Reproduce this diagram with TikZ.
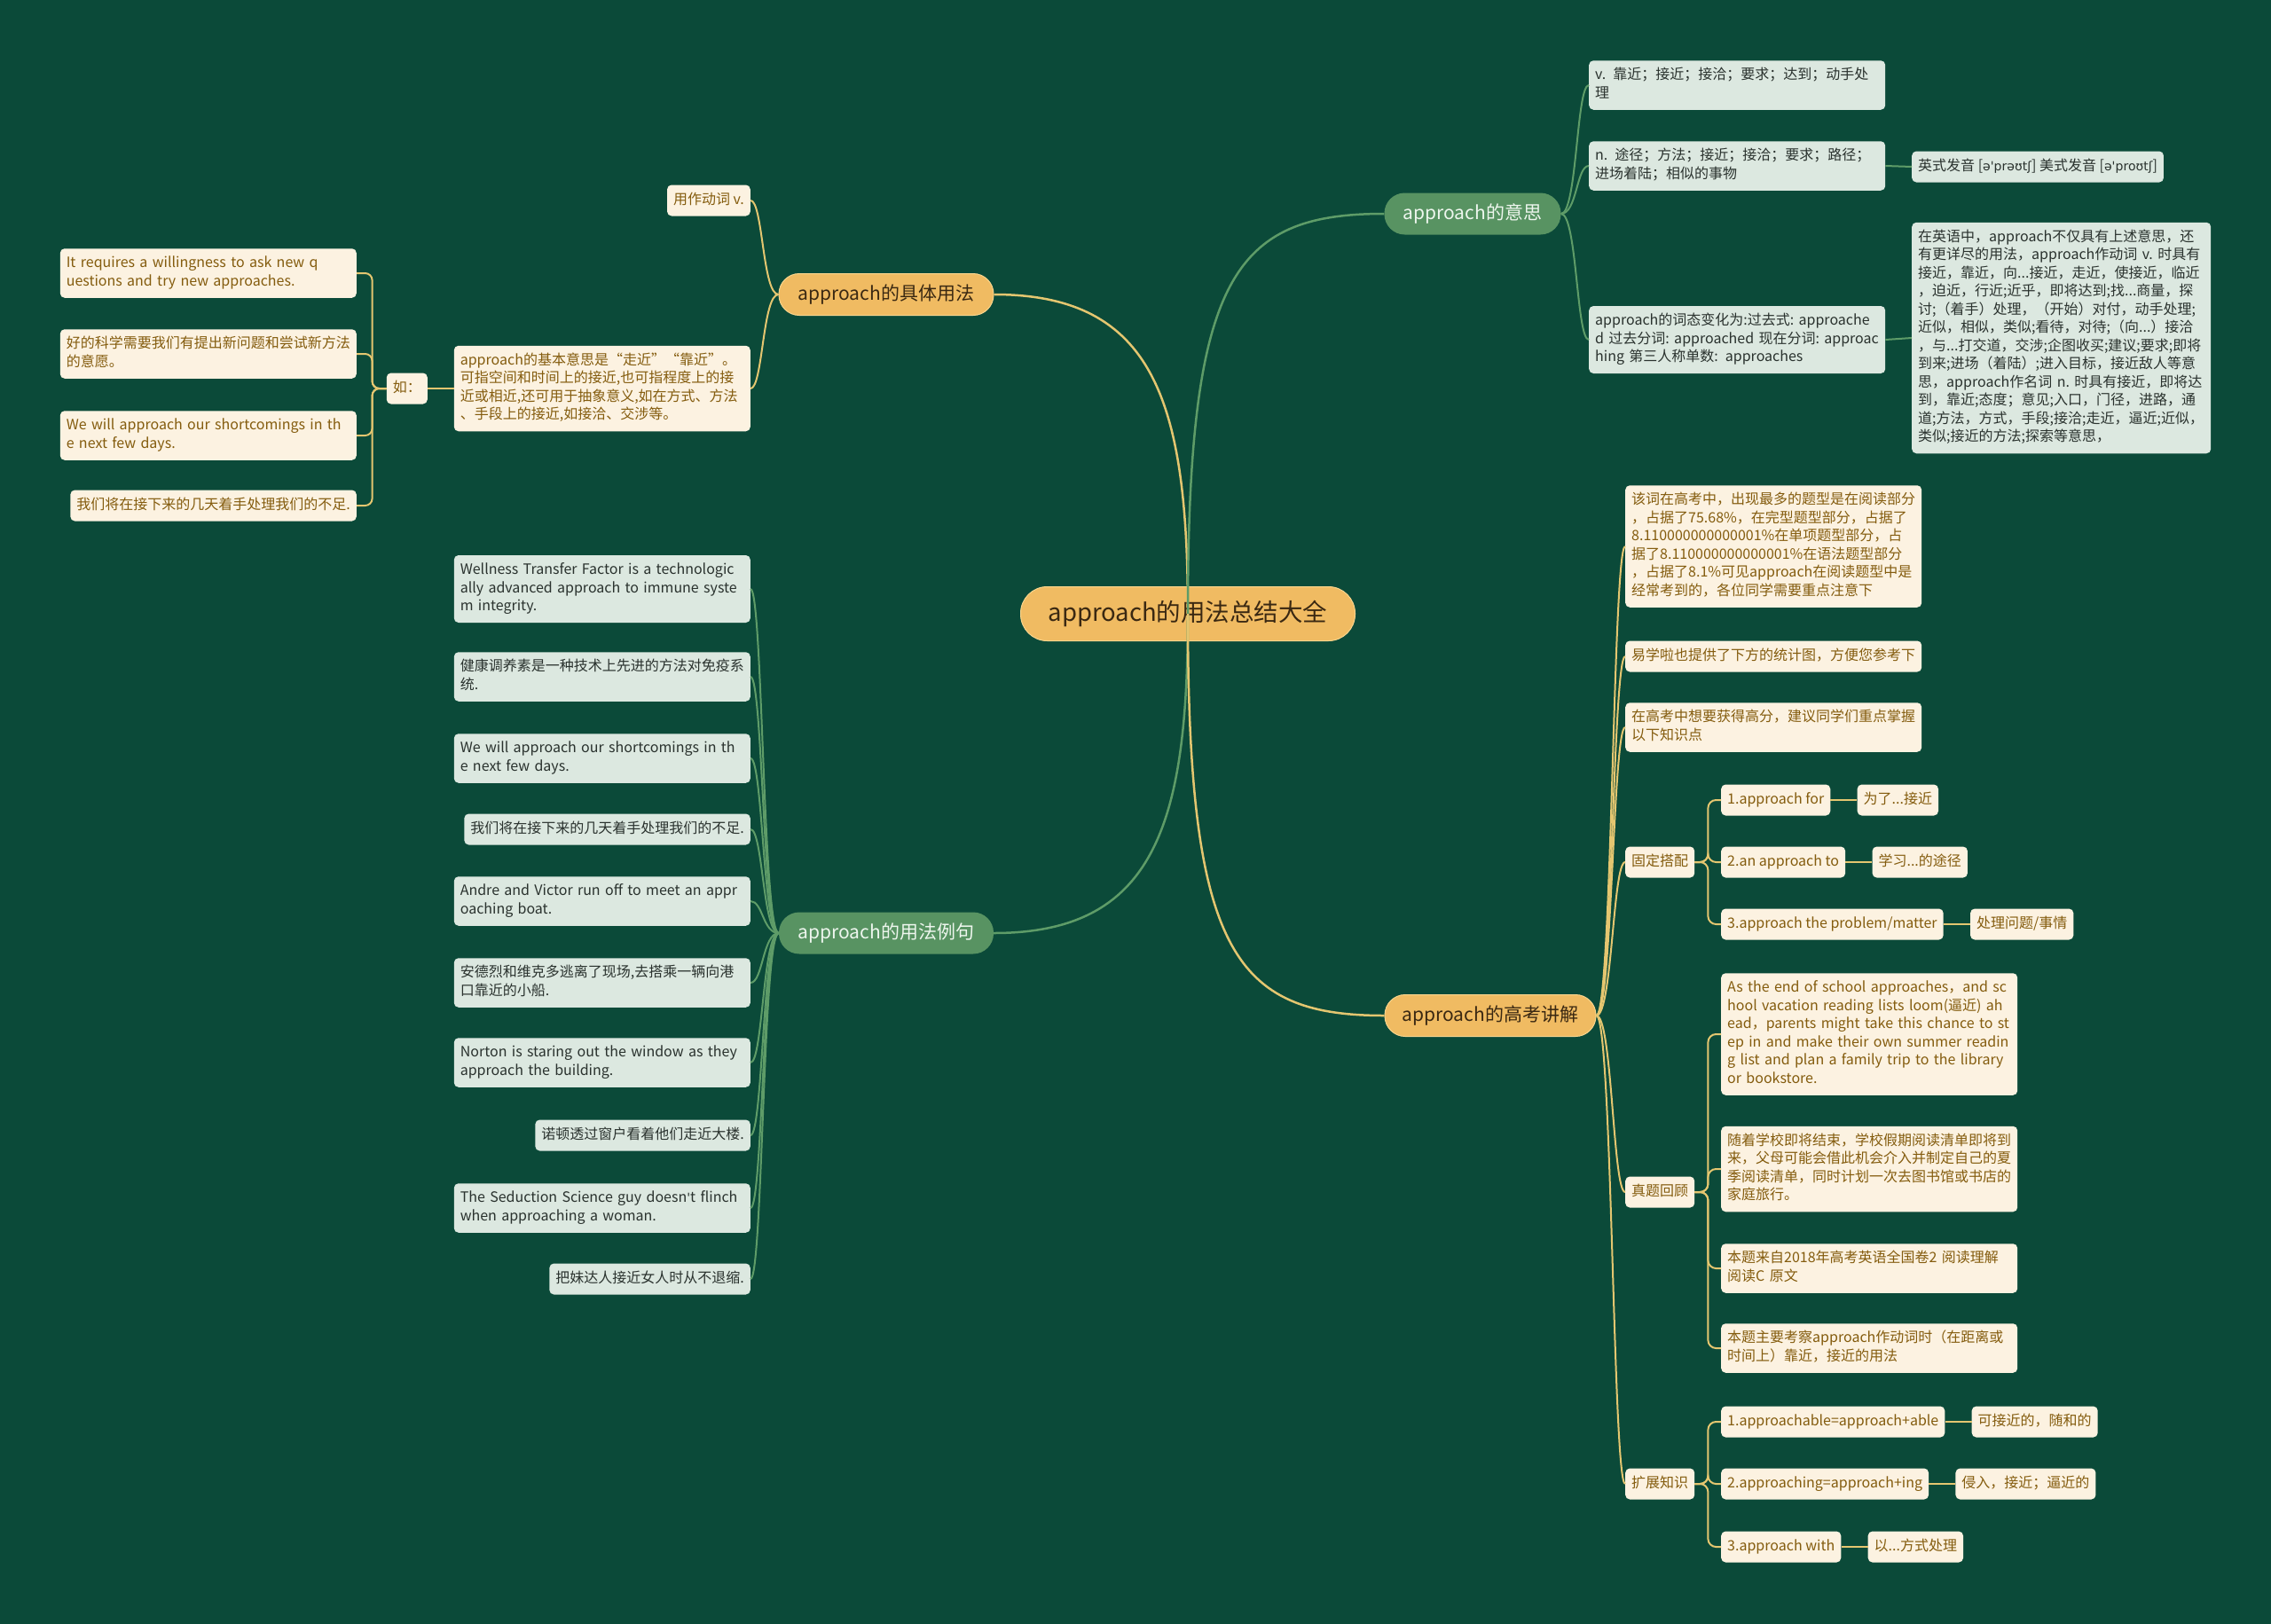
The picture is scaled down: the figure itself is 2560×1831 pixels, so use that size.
\documentclass[tikz,border=0pt]{standalone}
\usepackage{fontspec}
\setmainfont{Noto Sans CJK SC}
\newfontfamily\ipafont[Scale=0.88]{DejaVu Sans}
\usepackage{xcolor}
\usepackage{tikz}
\usetikzlibrary{calc, positioning}

\definecolor{bgcol}{RGB}{11,74,57}
\definecolor{orangefill}{RGB}{240,187,98}
\definecolor{orangeedge}{RGB}{248,212,140}
\definecolor{orangetext}{RGB}{58,40,18}
\definecolor{greenfill}{RGB}{88,147,98}
\definecolor{greentext}{RGB}{238,246,238}
\definecolor{creamfill}{RGB}{252,242,225}
\definecolor{creamtext}{RGB}{132,92,14}
\definecolor{mintfill}{RGB}{220,232,224}
\definecolor{minttext}{RGB}{42,50,46}
\definecolor{goldline}{RGB}{228,198,112}
\definecolor{leafline}{RGB}{94,156,104}

\newcommand\nohyph{\hyphenpenalty=10000\relax\exhyphenpenalty=10000\relax}

\begin{document}
\begin{tikzpicture}[x=1pt, y=-1pt,
    base/.style={rounded corners=5pt, inner xsep=7pt, inner ysep=7.25pt, align=left,
      font=\fontsize{16}{20.5}\selectfont,
      execute at begin node=\nohyph\strut, execute at end node=\strut},
    cnode/.style={base, fill=creamfill, text=creamtext},
    gnode/.style={base, fill=mintfill, text=minttext},
    wbox/.style={text width=320pt},
    pill/.style={rounded corners=23pt, minimum height=47pt, inner sep=0pt,
      font=\fontsize{21}{25}\selectfont},
    opill/.style={pill, fill=orangefill, draw=orangeedge, line width=1pt, text=orangetext},
    gpill/.style={pill, fill=greenfill, text=greentext},
    gline/.style={draw=goldline, line width=2pt},
    lline/.style={draw=leafline, line width=2pt}]

    % 背景
    \fill[bgcol] (0,0) rectangle (2560,1831);

    % 中心
    \node[opill, minimum width=377pt, minimum height=61pt, rounded corners=30pt,
      font=\fontsize{27.5}{32}\selectfont] (cen) at (1339,692) {approach的用法总结大全};

    % 一级分支
    \node[opill, minimum width=242pt] (yongfa) at (999,332) {approach的具体用法};
    \node[gpill, minimum width=242pt] (liju) at (999,1052) {approach的用法例句};
    \node[gpill, minimum width=199pt] (yisi) at (1660,241) {approach的意思};
    \node[opill, minimum width=238pt] (gaokao) at (1680,1145) {approach的高考讲解};

    % 意思
    \node[gnode, wbox, anchor=west] (ys1) at (1791,96) {v. 靠近；接近；接洽；要求；达到；动手处\\理};
    \node[gnode, wbox, anchor=west] (ys2) at (1791,187) {n. 途径；方法；接近；接洽；要求；路径；\\进场着陆；相似的事物};
    \node[gnode, wbox, anchor=west] (ys3) at (1791,383) {approach的词态变化为:过去式:~approache\\d~过去分词:~approached~现在分词:~approac\\hing 第三人称单数: approaches};
    \node[gnode, anchor=west] (ys2a) at (2155,188) {英式发音 [{\ipafont ə'prəʊtʃ}] 美式发音 [{\ipafont ə'proʊtʃ}]};
    \node[gnode, text width=323pt, anchor=west] (ys3a) at (2155,381) {在英语中，approach不仅具有上述意思，还\\有更详尽的用法，approach作动词~v.~时具有\\接近，靠近，向...接近，走近，使接近，临近\\，迫近，行近;近乎，即将达到;找...商量，探\\讨;（着手）处理，（开始）对付，动手处理;\\近似，相似，类似;看待，对待;（向...）接洽\\，与...打交道，交涉;企图收买;建议;要求;即将\\到来;进场（着陆）;进入目标，接近敌人等意\\思，approach作名词~n.~时具有接近，即将达\\到，靠近;态度；意见;入口，门径，进路，通\\道;方法，方式，手段;接洽;走近，逼近;近似，\\类似;接近的方法;探索等意思，};

    % 高考讲解
    \node[cnode, wbox, anchor=west] (gk1) at (1832,616) {该词在高考中，出现最多的题型是在阅读部分\\，占据了75.68\%，在完型题型部分，占据了\\8.110000000000001\%在单项题型部分，占\\据了8.110000000000001\%在语法题型部分\\，占据了8.1\%可见approach在阅读题型中是\\经常考到的，各位同学需要重点注意下};
    \node[cnode, wbox, anchor=west] (gk2) at (1832,740) {易学啦也提供了下方的统计图，方便您参考下};
    \node[cnode, wbox, anchor=west] (gk3) at (1832,820) {在高考中想要获得高分，建议同学们重点掌握\\以下知识点};
    \node[cnode, anchor=west] (gk4) at (1832,972) {固定搭配};
    \node[cnode, anchor=west] (gk5) at (1832,1344) {真题回顾};
    \node[cnode, anchor=west] (gk6) at (1832,1673) {扩展知识};

    % 固定搭配
    \node[cnode, anchor=west] (gd1) at (1940,902) {1.approach for};
    \node[cnode, right=30pt of gd1] (gd1a) {为了...接近};
    \node[cnode, anchor=west] (gd2) at (1940,972) {2.an approach to};
    \node[cnode, right=30pt of gd2] (gd2a) {学习...的途径};
    \node[cnode, anchor=west] (gd3) at (1940,1042) {3.approach the problem/matter};
    \node[cnode, right=30pt of gd3] (gd3a) {处理问题/事情};

    % 真题回顾
    \node[cnode, wbox, anchor=west] (zt1) at (1940,1166) {As the end of school approaches，and sc\\hool vacation reading lists loom(逼近) ah\\ead，parents might take this chance to st\\ep in and make their own summer readin\\g list and plan a family trip to the library\\or bookstore.};
    \node[cnode, wbox, anchor=west] (zt2) at (1940,1318) {随着学校即将结束，学校假期阅读清单即将到\\来，父母可能会借此机会介入并制定自己的夏\\季阅读清单，同时计划一次去图书馆或书店的\\家庭旅行。};
    \node[cnode, wbox, anchor=west] (zt3) at (1940,1430) {本题来自2018年高考英语全国卷2 阅读理解\\阅读C 原文};
    \node[cnode, wbox, anchor=west] (zt4) at (1940,1520) {本题主要考察approach作动词时（在距离或\\时间上）靠近，接近的用法};

    % 扩展知识
    \node[cnode, anchor=west] (kz1) at (1940,1603) {1.approachable=approach+able};
    \node[cnode, right=30pt of kz1] (kz1a) {可接近的，随和的};
    \node[cnode, anchor=west] (kz2) at (1940,1673) {2.approaching=approach+ing};
    \node[cnode, right=30pt of kz2] (kz2a) {侵入，接近；逼近的};
    \node[cnode, anchor=west] (kz3) at (1940,1744) {3.approach with};
    \node[cnode, right=30pt of kz3] (kz3a) {以...方式处理};

    % 具体用法
    \node[cnode, anchor=east] (zd1) at (846,226) {用作动词 v.};
    \node[cnode, wbox, anchor=east] (zd2) at (846,438) {approach的基本意思是“走近”“靠近”。\\可指空间和时间上的接近,也可指程度上的接\\近或相近,还可用于抽象意义,如在方式、方法\\、手段上的接近,如接洽、交涉等。};
    \node[cnode, anchor=east] (ru) at (482,438) {如：};
    \node[cnode, wbox, anchor=east] (ex1) at (402,308) {It requires a willingness to ask new q\\uestions and try new approaches.};
    \node[cnode, wbox, anchor=east] (ex2) at (402,399) {好的科学需要我们有提出新问题和尝试新方法\\的意愿。};
    \node[cnode, wbox, anchor=east] (ex3) at (402,491) {We will approach our shortcomings in th\\e next few days.};
    \node[cnode, anchor=east] (ex4) at (402,570) {我们将在接下来的几天着手处理我们的不足.};

    % 用法例句
    \node[gnode, wbox, anchor=east] (lj1) at (846,664) {Wellness Transfer Factor is a technologic\\ally advanced approach to immune syste\\m integrity.};
    \node[gnode, wbox, anchor=east] (lj2) at (846,763) {健康调养素是一种技术上先进的方法对免疫系\\统.};
    \node[gnode, wbox, anchor=east] (lj3) at (846,855) {We will approach our shortcomings in th\\e next few days.};
    \node[gnode, anchor=east] (lj4) at (846,935) {我们将在接下来的几天着手处理我们的不足.};
    \node[gnode, wbox, anchor=east] (lj5) at (846,1016) {Andre and Victor run off to meet an appr\\oaching boat.};
    \node[gnode, wbox, anchor=east] (lj6) at (846,1108) {安德烈和维克多逃离了现场,去搭乘一辆向港\\口靠近的小船.};
    \node[gnode, wbox, anchor=east] (lj7) at (846,1198) {Norton is staring out the window as they\\approach the building.};
    \node[gnode, anchor=east] (lj8) at (846,1280) {诺顿透过窗户看着他们走近大楼.};
    \node[gnode, wbox, anchor=east] (lj9) at (846,1362) {The Seduction Science guy doesn{\ipafont '}t~flinch\\when approaching a woman.};
    \node[gnode, anchor=east] (lj10) at (846,1442) {把妹达人接近女人时从不退缩.};

    % 主干连线
    \draw[gline, line width=2.5pt] (cen.center) .. controls +(0,-240) and +(180,0) .. (yongfa.east);
    \draw[lline, line width=2.5pt] (cen.center) .. controls +(0,240) and +(180,0) .. (liju.east);
    \draw[lline, line width=2.5pt] (cen.center) .. controls +(0,-380) and +(-170,0) .. (yisi.west);
    \draw[gline, line width=2.5pt] (cen.center) .. controls +(0,380) and +(-170,0) .. (gaokao.west);

    % 一级连线
    \foreach \nd in {ys1,ys2,ys3}
      \draw[lline] (yisi.east) .. controls +(18,0) and +(-14,0) .. (\nd.west);
    \foreach \nd in {gk1,gk2,gk3,gk4,gk5,gk6}
      \draw[gline] (gaokao.east) .. controls +(18,0) and +(-14,0) .. (\nd.west);
    \foreach \nd in {zd1,zd2}
      \draw[gline] (yongfa.west) .. controls +(-18,0) and +(14,0) .. (\nd.east);
    \foreach \i in {1,...,10}
      \draw[lline] (liju.west) .. controls +(-18,0) and +(14,0) .. (lj\i.east);

    % 二级连线
    \foreach \nd in {gd1,gd2,gd3}
      \draw[gline, rounded corners=9pt] (gk4.east) -- ++(15,0) |- (\nd.west);
    \foreach \nd in {zt1,zt2,zt3,zt4}
      \draw[gline, rounded corners=9pt] (gk5.east) -- ++(15,0) |- (\nd.west);
    \foreach \nd in {kz1,kz2,kz3}
      \draw[gline, rounded corners=9pt] (gk6.east) -- ++(15,0) |- (\nd.west);
    \foreach \nd in {ex1,ex2,ex3,ex4}
      \draw[gline, rounded corners=8pt] (ru.west) -- ++(-16,0) |- (\nd.east);
    \draw[gline] (zd2.west) -- (ru.east);
    \draw[lline] (ys2.east) -- (ys2a.west);
    \draw[lline] (ys3.east) -- (ys3a.west);

    % 三级连线
    \draw[gline] (gd1.east) -- (gd1a.west);
    \draw[gline] (gd2.east) -- (gd2a.west);
    \draw[gline] (gd3.east) -- (gd3a.west);
    \draw[gline] (kz1.east) -- (kz1a.west);
    \draw[gline] (kz2.east) -- (kz2a.west);
    \draw[gline] (kz3.east) -- (kz3a.west);

\end{tikzpicture}
\end{document}
